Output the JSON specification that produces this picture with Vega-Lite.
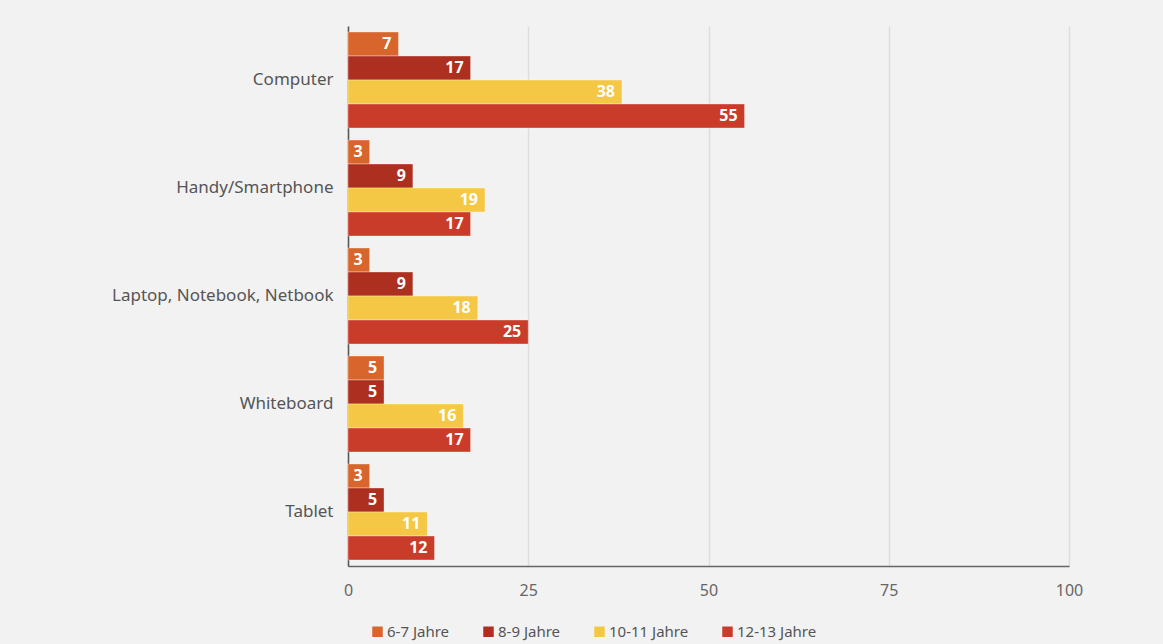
{
  "$schema": "https://vega.github.io/schema/vega-lite/v6.json",
  "width": 721,
  "height": 540,
  "autosize": {"type": "none"},
  "padding": {"left": 348, "top": 26, "right": 94, "bottom": 78},
  "background": "#f2f2f2",
  "config": {
    "view": {"stroke": null},
    "font": "Noto Sans"
  },
  "data": {
    "values": [
      {"device": "Computer", "age": "6-7 Jahre", "value": 7},
      {"device": "Computer", "age": "8-9 Jahre", "value": 17},
      {"device": "Computer", "age": "10-11 Jahre", "value": 38},
      {"device": "Computer", "age": "12-13 Jahre", "value": 55},
      {"device": "Handy/Smartphone", "age": "6-7 Jahre", "value": 3},
      {"device": "Handy/Smartphone", "age": "8-9 Jahre", "value": 9},
      {"device": "Handy/Smartphone", "age": "10-11 Jahre", "value": 19},
      {"device": "Handy/Smartphone", "age": "12-13 Jahre", "value": 17},
      {"device": "Laptop, Notebook, Netbook", "age": "6-7 Jahre", "value": 3},
      {"device": "Laptop, Notebook, Netbook", "age": "8-9 Jahre", "value": 9},
      {"device": "Laptop, Notebook, Netbook", "age": "10-11 Jahre", "value": 18},
      {"device": "Laptop, Notebook, Netbook", "age": "12-13 Jahre", "value": 25},
      {"device": "Whiteboard", "age": "6-7 Jahre", "value": 5},
      {"device": "Whiteboard", "age": "8-9 Jahre", "value": 5},
      {"device": "Whiteboard", "age": "10-11 Jahre", "value": 16},
      {"device": "Whiteboard", "age": "12-13 Jahre", "value": 17},
      {"device": "Tablet", "age": "6-7 Jahre", "value": 3},
      {"device": "Tablet", "age": "8-9 Jahre", "value": 5},
      {"device": "Tablet", "age": "10-11 Jahre", "value": 11},
      {"device": "Tablet", "age": "12-13 Jahre", "value": 12}
    ]
  },
  "encoding": {
    "y": {
      "field": "device",
      "type": "nominal",
      "sort": null,
      "scale": {"paddingInner": 0.111, "paddingOuter": 0.0556},
      "axis": {
        "title": null,
        "ticks": false,
        "domain": true,
        "domainColor": "#555555",
        "domainWidth": 1.5,
        "labelFontSize": 17,
        "labelColor": "#555555",
        "labelPadding": 15,
        "labelLimit": 400
      }
    },
    "x": {
      "field": "value",
      "type": "quantitative",
      "scale": {"domain": [0, 100]},
      "axis": {
        "title": null,
        "values": [0, 25, 50, 75, 100],
        "ticks": false,
        "grid": true,
        "labelFlush": false,
        "gridColor": "#dddddd",
        "gridWidth": 1.5,
        "domainColor": "#666666",
        "domainWidth": 1.5,
        "labelFontSize": 16,
        "labelColor": "#666666",
        "labelPadding": 16
      }
    },
    "yOffset": {
      "field": "age",
      "type": "nominal",
      "sort": ["6-7 Jahre", "8-9 Jahre", "10-11 Jahre", "12-13 Jahre"],
      "scale": {"paddingInner": 0, "paddingOuter": 0}
    }
  },
  "layer": [
    {
      "mark": {"type": "bar", "stroke": "#ffffff", "strokeOpacity": 0.35, "strokeWidth": 1},
      "encoding": {
        "color": {
          "field": "age",
          "type": "nominal",
          "sort": ["6-7 Jahre", "8-9 Jahre", "10-11 Jahre", "12-13 Jahre"],
          "scale": {
            "domain": ["6-7 Jahre", "8-9 Jahre", "10-11 Jahre", "12-13 Jahre"],
            "range": ["#d8652b", "#ad2f1f", "#f4c844", "#c93c2a"]
          },
          "legend": {
            "title": null,
            "orient": "none",
            "direction": "horizontal",
            "legendX": 22,
            "legendY": 598,
            "symbolType": "square",
            "symbolSize": 110,
            "symbolStrokeWidth": 0,
            "labelFontSize": 15,
            "labelColor": "#555555",
            "labelOffset": 2,
            "columnPadding": 31
          }
        }
      }
    },
    {
      "mark": {"type": "text", "align": "right", "dx": -7, "color": "white", "fontWeight": "bold", "fontSize": 16, "baseline": "middle"},
      "encoding": {
        "text": {"field": "value", "type": "quantitative"}
      }
    }
  ]
}
